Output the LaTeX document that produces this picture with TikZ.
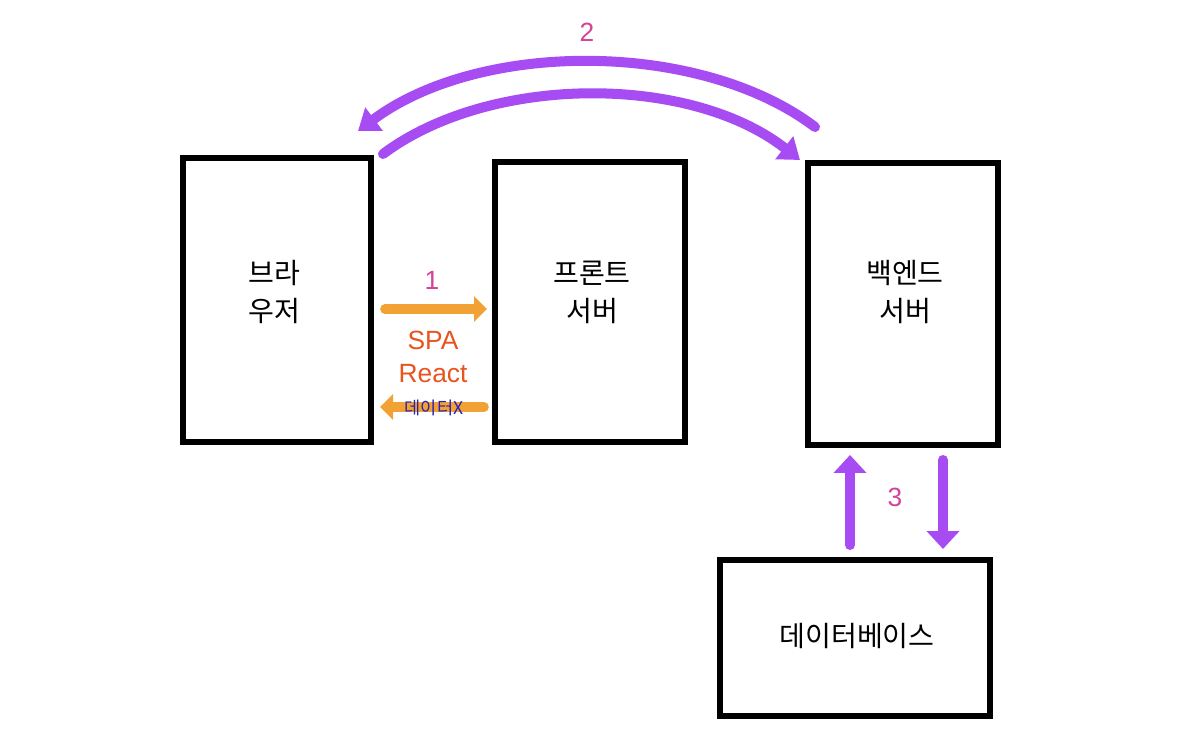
\documentclass[tikz,border=0pt]{standalone}
\usepackage{fontspec}
\setmainfont{Liberation Sans}
\newfontfamily\krfont{Noto Sans CJK KR}
\usetikzlibrary{positioning,calc,arrows.meta}

\definecolor{flowpurple}{HTML}{A64CF2}
\definecolor{floworange}{HTML}{F2A234}
\definecolor{numpink}{HTML}{D4429A}
\definecolor{spared}{HTML}{E8541E}
\definecolor{nodatablue}{HTML}{2A22B8}

\tikzset{
	server/.style={draw=black, line width=3.5pt, outer sep=0pt, inner sep=0pt},
	boxtext/.style={font=\krfont\fontsize{16}{21.6}\selectfont, align=center},
	stepnum/.style={text=numpink, font=\fontsize{15}{18}\selectfont},
	purplearrow/.style={draw=flowpurple, line width=5.7pt, line cap=round, -{Triangle[length=0.4cm,width=0.56cm]}},
	purpleshaft/.style={draw=flowpurple, line width=5.7pt, line cap=round, -{Triangle[length=0.36cm,width=0.64cm]}},
	orangearrow/.style={draw=floworange, line width=5.5pt, line cap=round, -{Triangle[length=0.26cm,width=0.5cm]}},
}

\begin{document}
\begin{tikzpicture}[x=0.02cm, y=-0.02cm]
	\useasboundingbox[fill=white] (0,0) rectangle (1200,753);

	% boxes
	\node[server, minimum width=3.76cm, minimum height=5.68cm] (browser) at (277,300) {};
	\node[server, minimum width=3.8cm, minimum height=5.6cm] (front) at (590,302) {};
	\node[server, minimum width=3.8cm, minimum height=5.64cm] (backend) at (903,304) {};
	\node[server, minimum width=5.4cm, minimum height=3.12cm] (db) at (855,638) {};

	\node[boxtext] (browsertext) at (274,292) {브라\\우저};
	\node[boxtext] (fronttext) at (592,292) {프론트\\서버};
	\node[boxtext] (backendtext) at (905,292) {백엔드\\서버};
	\node[boxtext] (dbtext) at (857,636) {데이터베이스};

	% 1: browser <-> front
	\coordinate (spastart) at (385,309);
	\coordinate (spaend) at (487,309);
	\coordinate (nodatastart) at (484,407);
	\coordinate (nodataend) at (380,407);
	\draw[orangearrow] (spastart) -- (spaend);
	\draw[orangearrow] (nodatastart) -- (nodataend);
	\node[stepnum] (one) at (432,280) {1};
	\node[text=spared, font=\fontsize{15}{19}\selectfont, align=center] (spa) at (433,357) {SPA\\React};
	\node[text=nodatablue, font=\krfont\fontsize{10}{12}\selectfont, inner sep=0pt] (nodata) at (434,408) {데이터X};

	% 2: browser <-> backend
	\coordinate (apistart) at (383,154);
	\coordinate (apiend) at (800,160);
	\coordinate (replystart) at (815,127);
	\coordinate (replyend) at (358,131);
	\draw[purplearrow] (apistart) .. controls (490,74) and (690,74) .. (apiend);
	\draw[purplearrow] (replystart) .. controls (700,40) and (480,40) .. (replyend);
	\node[stepnum] (two) at (587,32) {2};

	% 3: backend <-> db
	\coordinate (queryup) at (850,545);
	\coordinate (querytip) at (850,455);
	\coordinate (querydown) at (943,460);
	\coordinate (resulttip) at (943,549);
	\draw[purpleshaft] (queryup) -- (querytip);
	\draw[purpleshaft] (querydown) -- (resulttip);
	\node[stepnum] (three) at (895,497) {3};
\end{tikzpicture}
\end{document}
